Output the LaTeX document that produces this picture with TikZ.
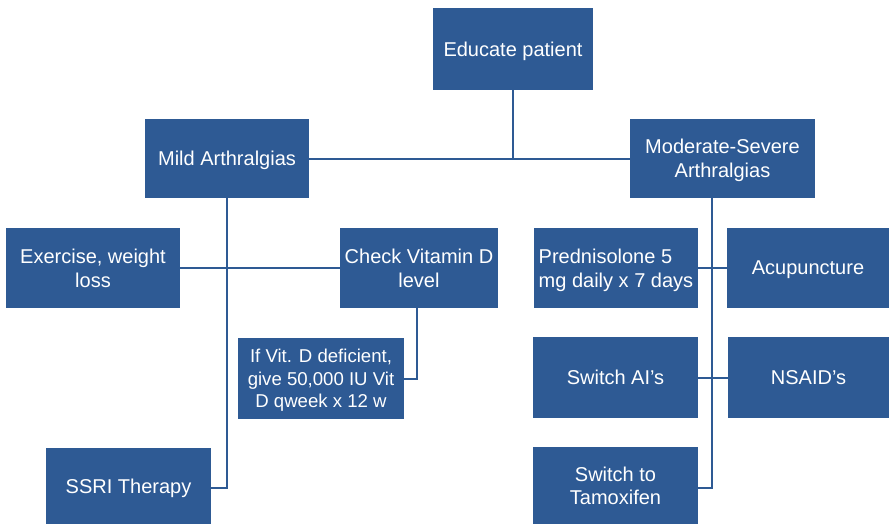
\documentclass[tikz,border=0pt]{standalone}
\usepackage{fontspec}
\setmainfont{Liberation Sans}
\usetikzlibrary{calc}
\definecolor{boxblue}{RGB}{46,90,148}
\begin{document}
\begin{tikzpicture}[x=1pt,y=-1pt,
  box/.style={fill=boxblue,draw=none,text=white,inner sep=2pt,align=center,
    text depth=0pt,font=\fontsize{20}{23.5}\selectfont},
  link/.style={draw=boxblue,line width=2pt}]
\useasboundingbox (0,0) rectangle (889,525);
\node[box,minimum width=160pt,minimum height=82pt] (edu) at (513,49) {Educate patient};
\node[box,minimum width=164pt,minimum height=79pt] (mild) at (227,158.5) {Mild Arthralgias};
\node[box,minimum width=185pt,minimum height=79pt] (mod) at (722.5,158.5) {Moderate-Severe\\Arthralgias};
\node[box,minimum width=174pt,minimum height=80pt] (ex) at (93,268) {Exercise, weight\\loss};
\node[box,minimum width=158pt,minimum height=80pt] (chk) at (419,268) {Check Vitamin D\\level};
\node[box,minimum width=166pt,minimum height=81pt,font=\fontsize{18.6}{22.5}\selectfont] (ifv) at (321,378.5) {If Vit. D deficient,\\give 50,000 IU Vit\\D qweek x 12 w};
\node[box,minimum width=165pt,minimum height=76pt] (ssri) at (128.5,486) {SSRI Therapy};
\node[box,minimum width=164pt,minimum height=80pt,align=left] (pred) at (616,268) {Prednisolone 5\\mg daily x 7 days};
\node[box,minimum width=162pt,minimum height=80pt] (acu) at (808,268) {Acupuncture};
\node[box,minimum width=165pt,minimum height=81pt] (sai) at (615.5,377.5) {Switch AI’s};
\node[box,minimum width=161pt,minimum height=81pt] (nsaid) at (808.5,377.5) {NSAID’s};
\node[box,minimum width=165pt,minimum height=77pt] (tam) at (615.5,485.5) {Switch to\\Tamoxifen};
\coordinate (ms) at (712,198);
\coordinate (ml) at (227,198);
\draw[link] (edu.south) -- (edu.south |- mild.east);
\draw[link] (mild.east) -- (mod.west);
\draw[link] (ml) |- ($(ssri.east)+(0,2)$);
\draw[link] (ex.east) -- (chk.west);
\draw[link] ([xshift=-2pt]chk.south) |- (ifv.east);
\draw[link] (ms) |- ($(tam.east)+(0,2)$);
\draw[link] (pred.east) -- (acu.west);
\draw[link] (sai.east) -- (nsaid.west);
\end{tikzpicture}
\end{document}
